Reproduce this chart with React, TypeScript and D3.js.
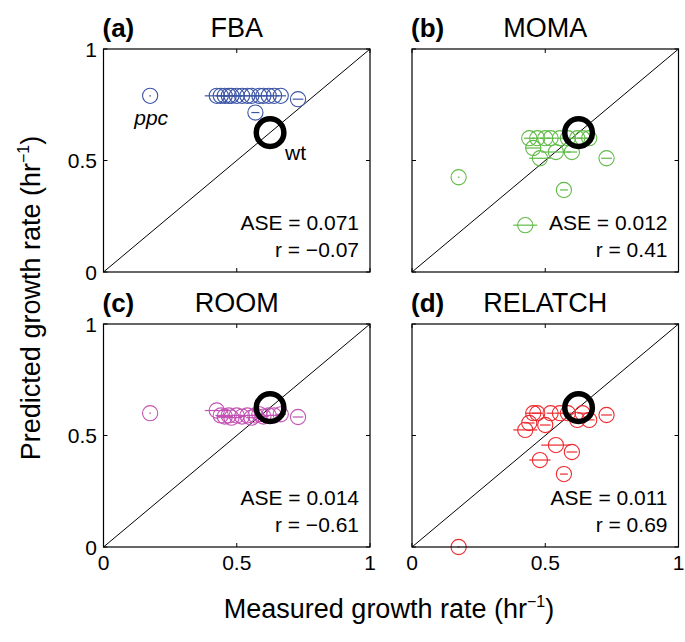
import React from "react";
import * as d3 from "d3";

const measured = [0.175, 0.425, 0.44, 0.455, 0.47, 0.48, 0.5, 0.52, 0.54, 0.555, 0.57, 0.585, 0.6, 0.62, 0.64, 0.665, 0.73];
const measuredErr = [0.003, 0.045, 0.02, 0.03, 0.02, 0.04, 0.02, 0.015, 0.055, 0.02, 0.015, 0.02, 0.02, 0.02, 0.02, 0.02, 0.02];

const predFBA = [0.79, 0.79, 0.79, 0.79, 0.79, 0.79, 0.79, 0.79, 0.79, 0.79, 0.715, 0.79, 0.79, 0.79, 0.79, 0.79, 0.775];
const predMOMA = [0.425, 0.21, 0.6, 0.556, 0.6, 0.51, 0.6, 0.6, 0.538, 0.6, 0.368, 0.6, 0.538, 0.6, 0.6, 0.6, 0.51];
const predROOM = [0.6, 0.612, 0.59, 0.585, 0.59, 0.58, 0.59, 0.585, 0.59, 0.58, 0.59, 0.595, 0.585, 0.59, 0.59, 0.595, 0.583];
const predRELATCH = [0.0, 0.525, 0.556, 0.6, 0.6, 0.39, 0.547, 0.6, 0.457, 0.6, 0.327, 0.6, 0.426, 0.57, 0.6, 0.57, 0.592];

const methods = ["FBA", "MOMA", "ROOM", "RELATCH"];
const letters = ["(a)", "(b)", "(c)", "(d)"];
const aseValues = ["0.071", "0.012", "0.014", "0.011"];
const rValues = ["\u22120.07", "0.41", "\u22120.61", "0.69"];
const colors = ["#3b55a6", "#5fba46", "#c353b4", "#ee2a2e"];
const predictions = [predFBA, predMOMA, predROOM, predRELATCH];
const wildType = [0.625, 0.625];
const tickValues = [0, 0.5, 1];

const FONT = "'Liberation Sans', Arial, Helvetica, sans-serif";

const lefts = [103.5, 412];
const tops = [49, 324];
const W = 266.5;
const H = 223;

function Panel({ idx }: { idx: number }) {
  const col = idx % 2;
  const row = Math.floor(idx / 2);
  const x0 = lefts[col];
  const y0 = tops[row];
  const x = d3.scaleLinear().domain([0, 1]).range([x0, x0 + W]);
  const y = d3.scaleLinear().domain([0, 1]).range([y0 + H, y0]);
  const color = colors[idx];
  const pred = predictions[idx];
  const diag = d3.line<number>().x((d) => x(d)).y((d) => y(d))([0, 1]) || "";
  const tickLen = 4;
  const fmt = (v: number) => (v === 0 ? "0" : v === 1 ? "1" : "0.5");
  return (
    <g>
      <path d={diag} stroke="#000" strokeWidth={1} fill="none" />
      {measured.map((m, i) => (
        <g key={i}>
          <line
            x1={x(m - measuredErr[i])}
            x2={x(m + measuredErr[i])}
            y1={y(pred[i])}
            y2={y(pred[i])}
            stroke={color}
            strokeWidth={1.2}
          />
          <circle cx={x(m)} cy={y(pred[i])} r={7.6} fill="none" stroke={color} strokeWidth={1.1} />
        </g>
      ))}
      <circle cx={x(wildType[0])} cy={y(wildType[1])} r={13.8} fill="none" stroke="#000" strokeWidth={5.5} />
      <rect x={x0} y={y0} width={W} height={H} fill="none" stroke="#000" strokeWidth={1.2} />
      {tickValues.map((t) => (
        <g key={t}>
          <line x1={x(t)} x2={x(t)} y1={y0 + H} y2={y0 + H - tickLen} stroke="#000" />
          <line x1={x(t)} x2={x(t)} y1={y0} y2={y0 + tickLen} stroke="#000" />
          <line x1={x0} x2={x0 + tickLen} y1={y(t)} y2={y(t)} stroke="#000" />
          <line x1={x0 + W} x2={x0 + W - tickLen} y1={y(t)} y2={y(t)} stroke="#000" />
        </g>
      ))}
      {col === 0 &&
        tickValues.map((t) => (
          <text key={"y" + t} x={x0 - 6.5} y={y(t)} dy="0.36em" textAnchor="end" fontSize={21} fontFamily={FONT}>
            {fmt(t)}
          </text>
        ))}
      {row === 1 &&
        tickValues.map((t) => (
          <text key={"x" + t} x={x(t)} y={y0 + H + 23} textAnchor="middle" fontSize={21} fontFamily={FONT}>
            {fmt(t)}
          </text>
        ))}
      <text x={x0 - 1} y={y0 - 12} fontSize={26} fontWeight="bold" fontFamily={FONT}>
        {letters[idx]}
      </text>
      <text x={x0 + W / 2} y={y0 - 12} textAnchor="middle" fontSize={27} fontFamily={FONT}>
        {methods[idx]}
      </text>
      <text x={x0 + W - 11} y={y0 + 181} textAnchor="end" fontSize={21} fontFamily={FONT}>
        {"ASE = " + aseValues[idx]}
      </text>
      <text x={x0 + W - 11} y={y0 + 208} textAnchor="end" fontSize={21} fontFamily={FONT}>
        {"r = " + rValues[idx]}
      </text>
      {idx === 0 && (
        <>
          <text x={x(measured[0]) + 1} y={y(predFBA[0]) + 29} textAnchor="middle" fontSize={21} fontStyle="italic" fontFamily={FONT}>
            ppc
          </text>
          <text x={x(wildType[0]) + 15} y={y(wildType[1]) + 27} fontSize={21} fontFamily={FONT}>
            wt
          </text>
        </>
      )}
    </g>
  );
}

export default function App() {
  return (
    <svg width={685} height={642} style={{ position: "absolute", left: 0, top: 0, background: "#fff" }}>
      <rect width={685} height={642} fill="#fff" />
      {[0, 1, 2, 3].map((i) => (
        <Panel key={i} idx={i} />
      ))}
      <text
        transform="translate(40,298) rotate(-90)"
        textAnchor="middle"
        fontSize={27}
        fontFamily={FONT}
      >
        Predicted growth rate (hr
        <tspan fontSize={16} dy={-11}>−1</tspan>
        <tspan dy={11}>)</tspan>
      </text>
      <text x={389} y={618} textAnchor="middle" fontSize={27} fontFamily={FONT}>
        Measured growth rate (hr
        <tspan fontSize={16} dy={-11}>−1</tspan>
        <tspan dy={11}>)</tspan>
      </text>
    </svg>
  );
}
